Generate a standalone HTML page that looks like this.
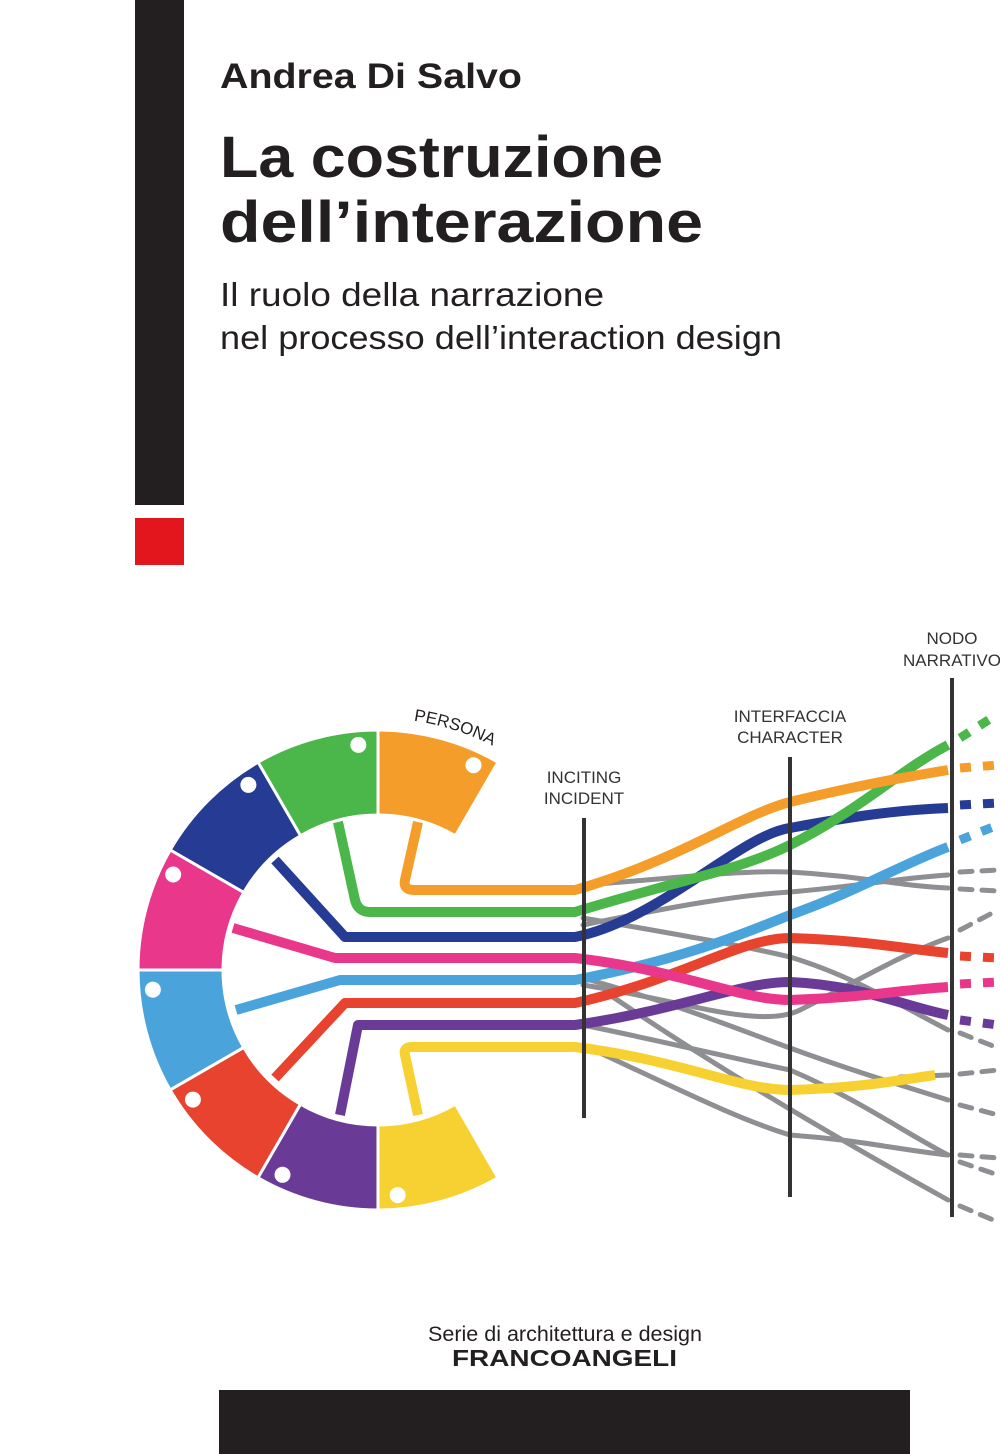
<!DOCTYPE html>
<html><head><meta charset="utf-8"><style>
html,body{margin:0;padding:0;background:#fff;}
body{width:1000px;height:1454px;position:relative;overflow:hidden;font-family:"Liberation Sans",sans-serif;}
</style></head><body>
<svg width="1000" height="1454" viewBox="0 0 1000 1454" xmlns="http://www.w3.org/2000/svg" style="position:absolute;left:0;top:0">
<rect x="135" y="0" width="49" height="505" fill="#231f20"/>
<rect x="135" y="518" width="49" height="47" fill="#e3161e"/>
<rect x="219" y="1390" width="691" height="64" fill="#231f20"/>
<g font-family="Liberation Sans, sans-serif" fill="#231f20">
<text x="220" y="88" font-size="35" font-weight="bold" textLength="302" lengthAdjust="spacingAndGlyphs">Andrea Di Salvo</text>
<text x="220" y="177" font-size="58" font-weight="bold" textLength="443" lengthAdjust="spacingAndGlyphs">La costruzione</text>
<text x="220" y="242" font-size="58" font-weight="bold" textLength="483" lengthAdjust="spacingAndGlyphs">dell’interazione</text>
<text x="220" y="306" font-size="33" textLength="384" lengthAdjust="spacingAndGlyphs">Il ruolo della narrazione</text>
<text x="220" y="349" font-size="33" textLength="562" lengthAdjust="spacingAndGlyphs">nel processo dell’interaction design</text>
<text x="428" y="1341" font-size="21" textLength="274" lengthAdjust="spacingAndGlyphs">Serie di architettura e design</text>
<text x="452" y="1366" font-size="23" font-weight="bold" textLength="225" lengthAdjust="spacingAndGlyphs">FRANCOANGELI</text>
</g>
<defs>
<path id="sec" d="M378,730 A240,240 0 0 1 498,762.2 L455.5,835.8 A155,155 0 0 0 378,815 Z"/>
<path id="arc" d="M334,722 A252,252 0 0 1 520,762"/>
</defs>
<g stroke="#fff" stroke-width="3">
<use href="#sec" fill="#f59d2a"/>
<use href="#sec" fill="#4bb649" transform="rotate(-30 378 970)"/>
<use href="#sec" fill="#263b93" transform="rotate(-60 378 970)"/>
<use href="#sec" fill="#e9378b" transform="rotate(-90 378 970)"/>
<use href="#sec" fill="#4aa4db" transform="rotate(-120 378 970)"/>
<use href="#sec" fill="#e8432e" transform="rotate(-150 378 970)"/>
<use href="#sec" fill="#6a3b96" transform="rotate(-180 378 970)"/>
<use href="#sec" fill="#f7d131" transform="rotate(-210 378 970)"/>
</g>
<g fill="#fff">
<circle cx="473.5" cy="765.2" r="8"/>
<circle cx="473.5" cy="765.2" r="8" transform="rotate(-30 378 970)"/>
<circle cx="473.5" cy="765.2" r="8" transform="rotate(-60 378 970)"/>
<circle cx="473.5" cy="765.2" r="8" transform="rotate(-90 378 970)"/>
<circle cx="473.5" cy="765.2" r="8" transform="rotate(-120 378 970)"/>
<circle cx="473.5" cy="765.2" r="8" transform="rotate(-150 378 970)"/>
<circle cx="473.5" cy="765.2" r="8" transform="rotate(-180 378 970)"/>
<circle cx="473.5" cy="765.2" r="8" transform="rotate(-210 378 970)"/>
</g>
<text font-size="17" fill="#231f20" font-family="Liberation Sans, sans-serif"><textPath href="#arc" startOffset="41%">PERSONA</textPath></text>
<g font-family="Liberation Sans, sans-serif" font-size="17" fill="#333" text-anchor="middle">
<text x="584" y="783">INCITING</text><text x="584" y="804">INCIDENT</text>
<text x="790" y="722">INTERFACCIA</text><text x="790" y="743">CHARACTER</text>
<text x="952" y="644">NODO</text><text x="952" y="666">NARRATIVO</text>
</g>
<g stroke="#8e8f92" stroke-width="5" fill="none" stroke-linecap="round">
<path d="M583,885 C680,878 740,870 790,872 C860,876 900,886 948,888"/>
<path d="M583,925 C680,905 740,895 790,892 C860,886 900,878 948,875"/>
<path d="M583,918 C680,935 740,945 790,957 C850,975 900,1005 948,1030"/>
<path d="M583,985 C680,1000 760,1030 800,1010 C850,985 900,955 948,938"/>
<path d="M583,978 C680,1005 740,1030 790,1048 C850,1070 900,1085 948,1100"/>
<path d="M583,1025 C680,1045 740,1060 790,1070 C860,1100 900,1130 948,1155"/>
<path d="M583,1045 C680,1090 740,1120 790,1135 C860,1140 900,1150 948,1155"/>
<path d="M610,995 C720,1070 840,1140 948,1200"/>
<path d="M900,1077 L948,1075"/>
</g>
<g stroke-width="10" fill="none" stroke-linejoin="round" stroke-linecap="butt">
<path stroke="#4aa4db" d="M236,1010 L340,980 L575,980 C680,960 740,935 790,915 C860,890 900,865 948,847"/>
<path stroke="#e8432e" d="M275,1078 L345,1003 L575,1003 C680,980 740,938 790,938 C860,940 900,948 948,953"/>
<path stroke="#6a3b96" d="M340,1115 L358,1025 L575,1025 C680,1010 740,982 790,982 C860,985 900,1005 948,1015"/>
<path stroke="#e9378b" d="M233,928 L335,958 L575,958 C680,970 740,1000 790,1000 C860,998 900,990 948,987"/>
<path stroke="#f7d131" d="M418,1115 L405,1055 Q403,1047 412,1047 L575,1047 C680,1060 740,1090 790,1090 C860,1088 900,1080 935,1075"/>
<path stroke="#263b93" d="M275,860 L345,937 L575,937 C660,920 740,835 790,828 C860,815 900,810 948,808"/>
<path stroke="#4bb649" d="M338,822 L355,900 Q358,912 370,912 L575,912 C680,880 740,870 790,845 C860,810 900,770 948,745"/>
<path stroke="#f59d2a" d="M418,822 L405,880 Q403,890 414,890 L575,890 C680,860 740,815 790,802 C860,785 900,778 948,770"/>
</g>
<g stroke-width="9" fill="none">
<path stroke="#4bb649" stroke-dasharray="11,12" d="M960,738 L998,714"/>
<path stroke="#f59d2a" stroke-dasharray="11,12" d="M960,768 L998,765"/>
<path stroke="#263b93" stroke-dasharray="11,12" d="M960,805 L998,803"/>
<path stroke="#4aa4db" stroke-dasharray="11,12" d="M960,840 L998,825"/>
<path stroke="#e8432e" stroke-dasharray="11,12" d="M960,956 L998,958"/>
<path stroke="#e9378b" stroke-dasharray="11,12" d="M960,984 L998,982"/>
<path stroke="#6a3b96" stroke-dasharray="11,12" d="M960,1020 L998,1025"/>
</g>
<g stroke="#8e8f92" stroke-width="5" fill="none" stroke-dasharray="12,10" stroke-linecap="round">
<path d="M960,872 L998,870"/>
<path d="M960,889 L998,891"/>
<path d="M960,930 L998,910"/>
<path d="M960,1033 L998,1048"/>
<path d="M960,1074 L998,1070"/>
<path d="M960,1105 L998,1115"/>
<path d="M960,1155 L998,1158"/>
<path d="M960,1162 L998,1175"/>
<path d="M960,1206 L998,1222"/>
</g>
<g stroke="#333" stroke-width="4">
<line x1="584" y1="818" x2="584" y2="1118"/>
<line x1="790" y1="757" x2="790" y2="1197"/>
<line x1="952" y1="678" x2="952" y2="1217"/>
</g>
</svg>
</body></html>
